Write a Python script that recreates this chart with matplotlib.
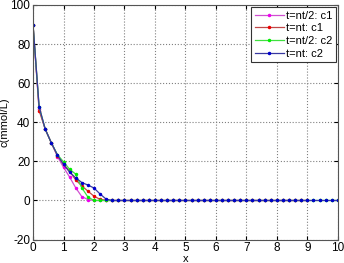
import matplotlib
matplotlib.use("Agg")
import matplotlib.pyplot as plt
import numpy as np

plt.rcParams["font.family"] = ["Liberation Sans", "DejaVu Sans"]
plt.rcParams["axes.unicode_minus"] = False

# grid of x positions (step 0.2)
x_c1 = np.round(np.arange(0, 9.01, 0.2), 1)
x_c2 = np.round(np.arange(0, 10.01, 0.2), 1)

# concentrations, leading part; the rest is zero
c1_half_head = [90, 47, 36.5, 29.5, 22.5, 17, 12, 6.5, 2, 0.5, 0]
c1_full_head = [90, 46, 36.5, 29.5, 23, 18.5, 15, 10.5, 7.5, 4.8, 2.2, 0.6, 0.1, 0]
c2_half_head = [90, 48, 36.5, 29.5, 23.5, 19.8, 16, 13.5, 6.5, 1.8, 0, 0]
c2_full_head = [90, 48, 36.5, 29.5, 23.3, 18.5, 14.5, 11.6, 9.2, 7.9, 6.4, 3.3, 0.7, 0]

def pad(head, n):
    return np.array(head + [0.0] * (n - len(head)))

c1_half = pad(c1_half_head, len(x_c1))
c1_full = pad(c1_full_head, len(x_c1))
c2_half = pad(c2_half_head, len(x_c2))
c2_full = pad(c2_full_head, len(x_c2))

fig = plt.figure(figsize=(3.44, 2.63), dpi=100)
ax = fig.add_axes([0.096, 0.089, 0.886, 0.892])

kw = dict(marker=".", markersize=3, linewidth=0.9)
ax.plot(x_c1, c1_half, color="#d050d0", mec="#ee00ee", mfc="#ee00ee", label="t=nt/2: c1", **kw)
ax.plot(x_c1, c1_full, color="#c04848", mec="#ee0000", mfc="#ee0000", label="t=nt: c1", **kw)
ax.plot(x_c2, c2_half, color="#40e040", mec="#00ee00", mfc="#00ee00", label="t=nt/2: c2", **kw)
ax.plot(x_c2, c2_full, color="#3838a0", mec="#0000cc", mfc="#0000cc", label="t=nt: c2", **kw)

ax.set_xlim(0, 10)
ax.set_ylim(-20, 100)
ax.set_xticks(np.arange(0, 11, 1))
ax.set_yticks(np.arange(-20, 101, 20))
ax.tick_params(direction="in", top=True, right=True, labelsize=8.5, length=3, pad=2)
ax.grid(True, linestyle=":", color="#808080", linewidth=0.8)
for s in ax.spines.values():
    s.set_color("#555555")
ax.set_xlabel("x", fontsize=8, labelpad=0)
ax.set_ylabel("c(mmol/L)", fontsize=8)
ax.yaxis.set_label_coords(-0.078, 0.5)

leg = ax.legend(loc="upper right", fontsize=8, handlelength=2.6, borderpad=0.3,
                labelspacing=0.25, handletextpad=0.2, borderaxespad=0.2,
                fancybox=False, framealpha=1)
leg.get_frame().set_edgecolor("#333333")
leg.get_frame().set_linewidth(0.8)

fig.savefig("out.png", dpi=100)
